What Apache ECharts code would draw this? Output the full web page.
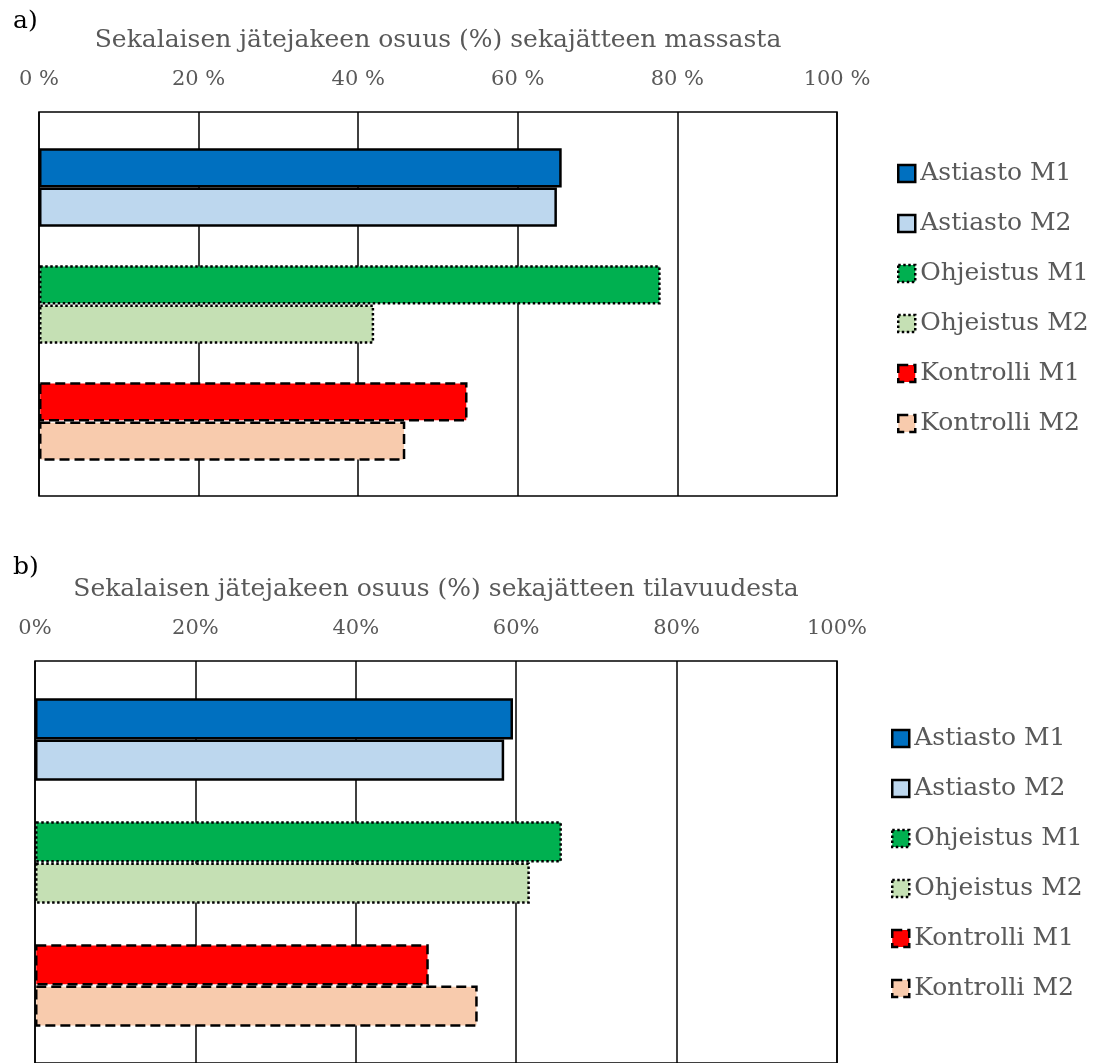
<!DOCTYPE html>
<html>
<head>
<meta charset="utf-8">
<script src="https://cdn.jsdelivr.net/npm/echarts@6/dist/echarts.min.js"></script>
<style>
  html, body { margin: 0; padding: 0; background: #fff; }
  #main { width: 1098px; height: 1063px; }
</style>
</head>
<body>
<div id="main"></div>
<script>
const groups = ["Astiasto", "Ohjeistus", "Kontrolli"];
const seriesNames = ["Astiasto M1", "Astiasto M2", "Ohjeistus M1", "Ohjeistus M2", "Kontrolli M1", "Kontrolli M2"];
// share of mixed waste fraction, % of mass (panel a) and % of volume (panel b)
const massM1 = [65.5, 77.9, 53.7];
const massM2 = [64.9, 42.0, 45.9];
const volumeM1 = [59.6, 65.7, 49.1];
const volumeM2 = [58.5, 61.7, 55.2];
const axisTicks = [0, 20, 40, 60, 80, 100];

const FONT = "DejaVu Serif";
const GREY = "#595959";

// fill colour and border type per series (M1, M2 of each group)
const fills = ["#0070C0", "#BDD7EE", "#00B050", "#C5E0B4", "#FF0000", "#F8CBAD"];
const borders = ["solid", "solid", "dotted", "dotted", "dashed", "dashed"];
const borderWidths = [2.5, 2.5, 2.5, 2.5, 2.5, 2.5];

function frameAxes(gridIndex, name, spaced) {
  return {
    x: {
      type: "value",
      gridIndex,
      position: "top",
      min: 0,
      max: 100,
      interval: 20,
      name,
      nameLocation: "middle",
      nameGap: 59,
      nameTextStyle: { fontFamily: FONT, fontSize: 25, color: GREY },
      axisLine: { show: false },
      axisTick: { show: false },
      axisLabel: {
        margin: 22,
        fontFamily: FONT,
        fontSize: 21,
        color: GREY,
        formatter: (v) => (axisTicks.includes(v) ? (spaced ? v + " %" : v + "%") : ""),
      },
      splitLine: { show: true, lineStyle: { color: "#000", width: 1.5 } },
    },
    y: {
      type: "value",
      gridIndex,
      show: false,
      splitLine: { show: false },
    },
  };
}

function barAxes(gridIndex) {
  return {
    x: { type: "value", gridIndex, min: 0, max: 100, show: false, splitLine: { show: false } },
    y: { type: "category", gridIndex, data: groups, inverse: true, show: false },
  };
}

function buildSeries(panel, axisIdx, m1, m2) {
  const out = [];
  seriesNames.forEach((name, i) => {
    const g = Math.floor(i / 2);
    const isM1 = i % 2 === 0;
    const src = isM1 ? m1 : m2;
    const data = groups.map((_, k) => (k === g ? src[k] : "-"));
    out.push({
      name,
      type: "bar",
      xAxisIndex: axisIdx,
      yAxisIndex: axisIdx,
      stack: panel + (isM1 ? "M1" : "M2"),
      barGap: "0%",
      barCategoryGap: "33%",
      data,
      itemStyle: {
        color: fills[i],
        borderColor: "#000",
        borderWidth: borderWidths[i],
        borderType: borders[i],
      },
      emphasis: { disabled: true },
    });
  });
  return out;
}

const fa = frameAxes(0, "Sekalaisen jätejakeen osuus (%) sekajätteen massasta", true);
const ba = barAxes(1);
const fb = frameAxes(2, "Sekalaisen jätejakeen osuus (%) sekajätteen tilavuudesta", false);
const bb = barAxes(3);

const legendData = seriesNames.map((name, i) => ({
  name,
  itemStyle: { borderColor: "#000", borderWidth: 2.5, borderType: borders[i] },
}));

const legendBase = {
  orient: "vertical",
  padding: 0,
  itemWidth: 17,
  itemHeight: 17,
  itemGap: 25,
  icon: "rect",
  selectedMode: false,
  textStyle: { fontFamily: FONT, fontSize: 25, color: GREY },
  data: legendData,
};

const chart = echarts.init(document.getElementById("main"), null, { renderer: "canvas" });

chart.setOption({
  animation: false,
  backgroundColor: "#fff",
  title: [
    { text: "a)", left: 8, top: 4, textStyle: { fontFamily: FONT, fontSize: 25, fontWeight: "normal", color: "#000" } },
    { text: "b)", left: 8, top: 550, textStyle: { fontFamily: FONT, fontSize: 25, fontWeight: "normal", color: "#000" } },
  ],
  grid: [
    { left: 39, right: 261, top: 112, bottom: 567, show: true, borderColor: "#000", borderWidth: 1.5, backgroundColor: "transparent" },
    { left: 39, right: 261, top: 129, bottom: 583 },
    { left: 35, right: 261, top: 661, bottom: -3, show: true, borderColor: "#000", borderWidth: 1.5, backgroundColor: "transparent" },
    { left: 35, right: 261, top: 678, bottom: 16 },
  ],
  xAxis: [fa.x, ba.x, fb.x, bb.x],
  yAxis: [fa.y, ba.y, fb.y, bb.y],
  legend: [
    Object.assign({}, legendBase, { left: 897, top: 161 }),
    Object.assign({}, legendBase, { left: 891, top: 726 }),
  ],
  series: [
    ...buildSeries("a", 1, massM1, massM2),
    ...buildSeries("b", 3, volumeM1, volumeM2),
  ],
});
</script>
</body>
</html>
